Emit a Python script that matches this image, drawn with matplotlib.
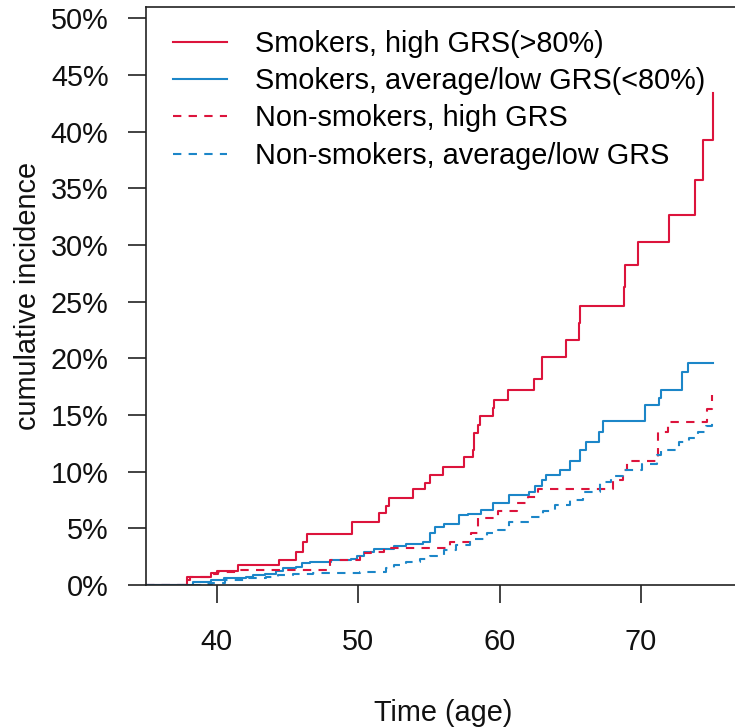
import numpy as np
import matplotlib.pyplot as plt

plt.rcParams['font.family'] = ['Liberation Sans', 'DejaVu Sans']

# --- courbes d'incidence cumulée (en %) ---
age_smk_high = [35, 37.9, 39.6, 40.0, 41.5, 44.4, 45.6, 46.1, 46.4, 49.6, 51.5, 52.0, 52.2,
                53.9, 54.7, 55.1, 56.0, 57.5, 58.1, 58.2, 58.5, 58.6, 59.5, 59.6, 60.6,
                62.4, 63.0, 64.7, 65.6, 65.7, 68.8, 68.9, 69.8, 72.0, 73.8, 74.4, 75.1]
inc_smk_high = [0, 0.73, 1.03, 1.26, 1.77, 2.2, 2.94, 3.8, 4.5, 5.6, 6.35, 6.97, 7.7,
                8.5, 9.0, 9.7, 10.44, 11.27, 11.9, 13.4, 14.1, 14.9, 15.6, 16.3, 17.2,
                18.15, 20.15, 21.6, 23.1, 24.6, 26.3, 28.2, 30.3, 32.65, 35.7, 39.3, 43.4]

age_smk_low = [35, 38.3, 39.6, 40.5, 42.1, 42.6, 43.4, 44.2, 44.7, 45.6, 46.0, 46.6, 48.1,
               49.5, 49.9, 50.4, 51.1, 52.5, 53.4, 54.6, 55.1, 55.4, 56.1, 57.1, 57.8,
               58.7, 59.5, 60.7, 62.1, 62.5, 63.0, 63.3, 64.3, 65.0, 65.7, 66.1, 67.0,
               67.3, 70.3, 71.3, 71.4, 72.9, 73.3, 75.1]
inc_smk_low = [0, 0.3, 0.44, 0.6, 0.73, 0.88, 1.0, 1.26, 1.47, 1.6, 1.9, 2.06, 2.2,
               2.3, 2.56, 2.94, 3.2, 3.4, 3.6, 3.8, 4.55, 5.15, 5.4, 6.2, 6.3,
               6.6, 7.2, 7.9, 8.2, 8.7, 9.3, 9.7, 10.15, 10.9, 11.9, 12.65, 13.5,
               14.5, 15.9, 16.5, 17.2, 18.8, 19.6, 19.6]

age_non_high = [35, 37.9, 38.1, 39.6, 40.1, 41.6, 48.0, 49.2, 50.1, 50.9, 51.8, 56.5,
                58.0, 58.5, 59.9, 61.2, 62.0, 62.7, 68.0, 68.7, 69.0, 71.2, 71.9, 74.7, 75.0]
inc_non_high = [0, 0.44, 0.73, 1.0, 1.18, 1.32, 2.2, 2.25, 2.8, 2.94, 3.24, 3.8,
                4.55, 5.9, 6.5, 7.2, 7.8, 8.5, 9.3, 10.15, 10.9, 13.5, 14.4, 15.5, 16.8]

age_non_low = [35, 38.9, 39.7, 40.6, 42.3, 43.5, 44.3, 45.4, 46.8, 50.1, 52.0, 52.5, 53.4,
               54.4, 55.1, 56.1, 56.9, 57.9, 59.1, 59.9, 60.7, 62.1, 63.1, 63.9, 65.0,
               65.9, 67.1, 67.9, 68.7, 70.1, 71.1, 71.4, 72.7, 73.4, 74.0, 74.6, 75.0]
inc_non_low = [0, 0.08, 0.15, 0.44, 0.58, 0.73, 0.88, 0.94, 1.03, 1.18, 1.47, 1.77, 2.06,
               2.3, 2.56, 3.1, 3.5, 4.1, 4.55, 4.85, 5.6, 6.0, 6.5, 7.06, 7.5,
               8.2, 9.1, 9.6, 10.15, 10.7, 11.5, 11.9, 12.65, 13.0, 13.5, 14.0, 14.3]

labels = ["Smokers, high GRS(>80%)", "Smokers, average/low GRS(<80%)",
          "Non-smokers, high GRS", "Non-smokers, average/low GRS"]
x_ticks = [40, 50, 60, 70]
y_ticks = [0, 5, 10, 15, 20, 25, 30, 35, 40, 45, 50]

rouge = '#DC143C'
bleu = '#1C86C8'
tirets = (0, (4, 3.5))

fig = plt.figure(figsize=(7.35, 7.27), dpi=100)
ax = fig.add_axes([146 / 735, 1 - 585 / 727, 594 / 735, 578.3 / 727])

ax.plot(age_smk_high, inc_smk_high, drawstyle='steps-post', color=rouge, lw=1.5, label=labels[0])
ax.plot(age_smk_low, inc_smk_low, drawstyle='steps-post', color=bleu, lw=1.5, label=labels[1])
ax.plot(age_non_high, inc_non_high, drawstyle='steps-post', color=rouge, lw=1.5,
        linestyle=tirets, label=labels[2])
ax.plot(age_non_low, inc_non_low, drawstyle='steps-post', color=bleu, lw=1.5,
        linestyle=tirets, label=labels[3])

ax.set_xlim(35, 77)
ax.set_ylim(0, 51.03)
ax.set_xticks(x_ticks)
ax.set_yticks(y_ticks)
ax.set_yticklabels([f"{v}%" for v in y_ticks])

for s in ax.spines.values():
    s.set_linewidth(1.2)
    s.set_color('#222222')
ax.tick_params(length=13, width=1.2, color='#222222', labelsize=20.8, labelcolor='#111111')
ax.tick_params(axis='x', pad=18)
ax.tick_params(axis='y', pad=14)

ax.set_xlabel("Time (age)", fontsize=20.8, labelpad=31, color='#111111')
ax.set_ylabel("cumulative incidence", fontsize=20.8, labelpad=6.5, color='#111111')

ax.legend(loc='upper left', bbox_to_anchor=(173 / 735, 1 - 30 / 727),
          bbox_transform=fig.transFigure, frameon=False, fontsize=20.8,
          handlelength=1.86, handletextpad=0.97, labelspacing=0.32,
          borderpad=0, borderaxespad=0)

fig.savefig("out.png", dpi=100)
